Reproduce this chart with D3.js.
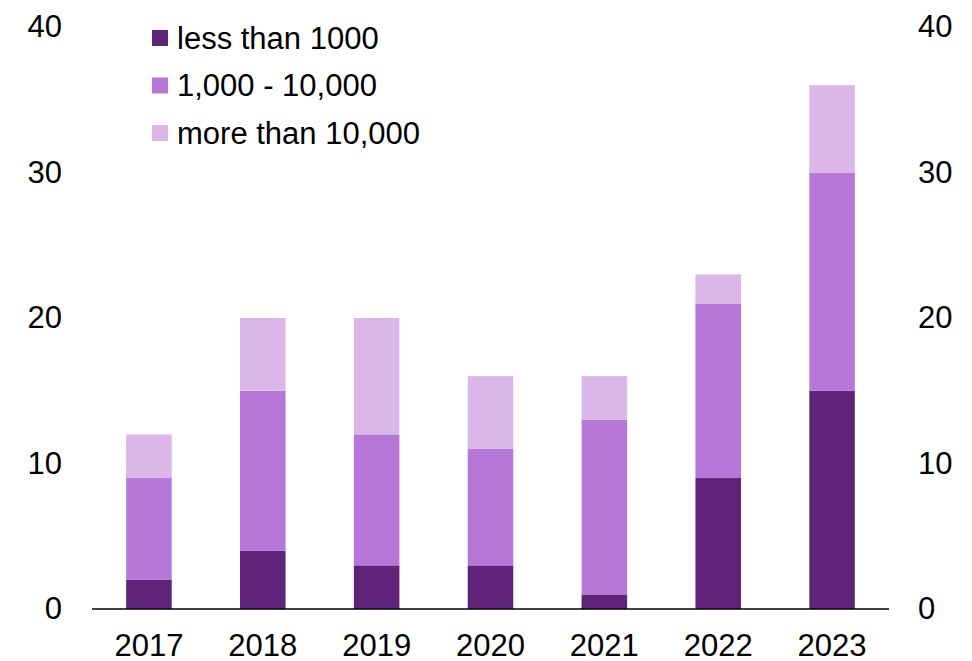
<!DOCTYPE html>
<html>
<head>
<meta charset="utf-8">
<script src="https://cdn.jsdelivr.net/npm/d3@7"></script>
<style>
  html, body { margin: 0; padding: 0; background: #fff; }
  svg { display: block; font-family: "Liberation Sans", Arial, sans-serif; }
</style>
</head>
<body>
<svg id="chart" width="972" height="661"></svg>
<script>
// Stacked counts per year, by size band
const years = ["2017", "2018", "2019", "2020", "2021", "2022", "2023"];
const lessThan1000 = [2, 4, 3, 3, 1, 9, 15];
const between1000and10000 = [7, 11, 9, 8, 12, 12, 15];
const moreThan10000 = [3, 5, 8, 5, 3, 2, 6];
const seriesNames = ["less than 1000", "1,000 - 10,000", "more than 10,000"];
const seriesColors = ["#5f247a", "#b677d8", "#dab6e9"];
const yTicks = [0, 10, 20, 30, 40];

const rows = years.map((yr, i) => ({
  year: yr,
  a: lessThan1000[i],
  b: between1000and10000[i],
  c: moreThan10000[i]
}));
const keys = ["a", "b", "c"];
const stacked = d3.stack().keys(keys)(rows);

const svg = d3.select("#chart");
const plotLeft = 92, plotRight = 889, plotTop = 27, plotBottom = 609;
const fontSize = 31;

const x = d3.scaleBand().domain(years).range([plotLeft, plotRight]).paddingInner(0.6).paddingOuter(0.3);
const y = d3.scaleLinear().domain([0, 40]).range([plotBottom, plotTop]);

// Bars
svg.append("g").selectAll("g")
  .data(stacked)
  .join("g")
  .attr("fill", (d, i) => seriesColors[i])
  .selectAll("rect")
  .data(d => d)
  .join("rect")
  .attr("x", d => x(d.data.year))
  .attr("width", x.bandwidth())
  .attr("y", d => y(d[1]))
  .attr("height", d => y(d[0]) - y(d[1]));

// Baseline
svg.append("line")
  .attr("x1", plotLeft).attr("x2", plotRight)
  .attr("y1", y(0)).attr("y2", y(0))
  .attr("stroke", "#000").attr("stroke-width", 1.3);

const styleText = sel => sel.attr("font-size", fontSize).attr("fill", "#000")
  .attr("font-family", "Liberation Sans, Arial, sans-serif");

// Left axis labels
const gl = svg.append("g").attr("transform", "translate(62,0)")
  .call(d3.axisLeft(y).tickValues(yTicks).tickSize(0).tickPadding(0));
gl.select(".domain").remove();
gl.selectAll("text").call(styleText);

// Right axis labels
const gr = svg.append("g").attr("transform", "translate(918,0)")
  .call(d3.axisRight(y).tickValues(yTicks).tickSize(0).tickPadding(0));
gr.select(".domain").remove();
gr.selectAll("text").call(styleText);

// Category labels
const gb = svg.append("g").attr("transform", `translate(0,${plotBottom + 25})`)
  .call(d3.axisBottom(x).tickSize(0).tickPadding(0));
gb.select(".domain").remove();
gb.selectAll("text").call(styleText).attr("dy", "0.72em");

// Legend
const legend = svg.append("g").attr("transform", "translate(152,38)");
const items = legend.selectAll("g").data(seriesNames).join("g")
  .attr("transform", (d, i) => `translate(0,${i * 47.5})`);
items.append("rect")
  .attr("x", 0).attr("y", -8).attr("width", 16).attr("height", 16)
  .attr("fill", (d, i) => seriesColors[i]);
items.append("text")
  .attr("x", 25).attr("y", 0).attr("dy", "0.35em")
  .call(styleText)
  .text(d => d);
</script>
</body>
</html>
